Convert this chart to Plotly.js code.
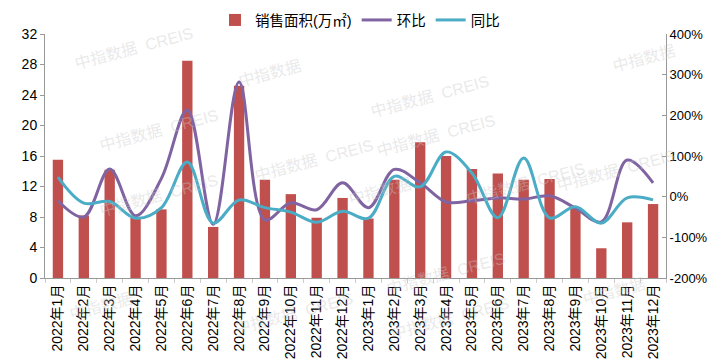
<!DOCTYPE html>
<html><head><meta charset="utf-8">
<script src="https://cdn.plot.ly/plotly-3.0.1.min.js"></script>
<style>html,body{margin:0;padding:0;background:#fff}#chart{width:720px;height:364px}</style>
</head><body><div id="chart"></div>
<script>
const months = ["2022年1月","2022年2月","2022年3月","2022年4月","2022年5月","2022年6月","2022年7月","2022年8月","2022年9月","2022年10月","2022年11月","2022年12月",
"2023年1月","2023年2月","2023年3月","2023年4月","2023年5月","2023年6月","2023年7月","2023年8月","2023年9月","2023年10月","2023年11月","2023年12月"];
const salesArea = [15.5,8.2,14.2,7.9,9.0,28.5,6.7,25.2,12.9,11.0,7.9,10.5,7.8,12.9,17.8,16.0,14.3,13.7,12.9,13.0,9.2,3.9,7.3,9.7];
const momPct = [-10,-50,68,-47,45,213,-68,282,-57,-15,-32,34,-27,67,34,-13,-10,-3,-6,2,-28,-62,90,34];
const yoyPct = [48,-16,-12,-53,-27,85,-65,-8,-27,-38,-63,-36,-53,50,24,110,58,-52,95,-52,-25,-65,-3,-8];
const leftTicks = [0,4,8,12,16,20,24,28,32];
const rightTicks = [-200,-100,0,100,200,300,400];

const font = "Liberation Sans, Noto Sans CJK SC, sans-serif";
const traces = [
  {type:"bar", name:"销售面积(万㎡)", x:months, y:salesArea, marker:{color:"#C0504D"}, width:0.4, yaxis:"y"},
  {type:"scatter", mode:"lines", name:"环比", x:months, y:momPct, yaxis:"y2", line:{color:"#8064A2", width:3, shape:"spline", smoothing:1}},
  {type:"scatter", mode:"lines", name:"同比", x:months, y:yoyPct, yaxis:"y2", line:{color:"#4BACC6", width:3, shape:"spline", smoothing:1}}
];
const wm = [];
const wmPos = [[70,22],[95,130],[270,55],[430,70],[500,135],[680,40],[95,222],[250,160],[380,210],[590,210],[680,170],[65,325],[230,340],[450,345],[650,310],[510,300]];
wmPos.forEach((p,i)=>{
  wm.push({xref:"paper",yref:"paper",x:(p[0]-45)/621,y:(278-p[1])/244,text:(i%3==2?"中指数据":"中指数据  CREIS"),showarrow:false,
    textangle:-15,font:{size:16,color:"rgba(200,200,200,0.4)",family:font}});
});
const layout = {
  width:720, height:364,
  margin:{l:45, r:54, t:34, b:86, autoexpand:false},
  paper_bgcolor:"#fff", plot_bgcolor:"#fff",
  font:{family:font, size:13, color:"#000"},
  showlegend:true,
  legend:{orientation:"h", x:0.5, xanchor:"center", xref:"container", y:0.945, yref:"container", yanchor:"middle", font:{size:14.5}, traceorder:"normal"},
  bargap:0.6,
  xaxis:{type:"category", tickangle:-90, showline:true, linecolor:"#999", linewidth:1, showgrid:false, ticks:"outside", tickson:"boundaries", ticklen:4, tickcolor:"#ccc", tickfont:{size:14}, range:[-0.5,23.5]},
  yaxis:{range:[0,32], tickvals:leftTicks, showline:true, linecolor:"#999", linewidth:1, ticks:"outside", ticklen:4, tickcolor:"#999", showgrid:false, zeroline:false, tickfont:{size:14}},
  yaxis2:{overlaying:"y", side:"right", range:[-200,400], tickvals:rightTicks, ticktext:rightTicks.map(v=>v+"%"), showline:true, linecolor:"#999", linewidth:1, ticks:"inside", ticklen:4, tickcolor:"#999", showgrid:false, zeroline:false, tickfont:{size:13}},
  annotations:wm
};
Plotly.newPlot("chart", traces, layout, {staticPlot:true, displayModeBar:false});
</script></body></html>
